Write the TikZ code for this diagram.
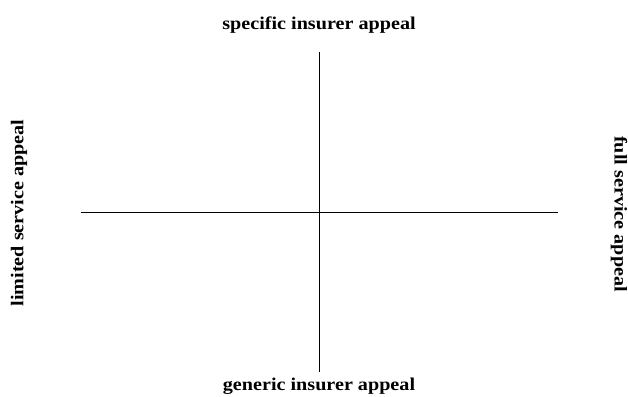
\documentclass[tikz,border=0pt]{standalone}
\usepackage{fontspec}
\setmainfont{Liberation Serif}
\newfontfamily\lblfont{Liberation Serif}[FakeStretch=1.12]
\begin{document}
\begin{tikzpicture}[x=1pt,y=-1pt,
  lbl/.style={font=\lblfont\fontsize{18}{20}\selectfont\bfseries, inner sep=0pt},
  axis/.style={line width=0.9pt}]
\useasboundingbox (0,0) rectangle (628,396);
\coordinate (top) at (319,52);
\coordinate (bot) at (319,372);
\coordinate (lft) at (81,212);
\coordinate (rgt) at (558,212);
\draw[axis] (top) -- (bot);
\draw[axis] (lft) -- (rgt);
\node[lbl] (spec) at (319,25) {specific insurer appeal};
\node[lbl] (gen) at (319,386) {generic insurer appeal};
\node[lbl, rotate=90] (lim) at (19,213) {limited service appeal};
\node[lbl, rotate=-90] (full) at (619,214) {full service appeal};
\end{tikzpicture}
\end{document}
